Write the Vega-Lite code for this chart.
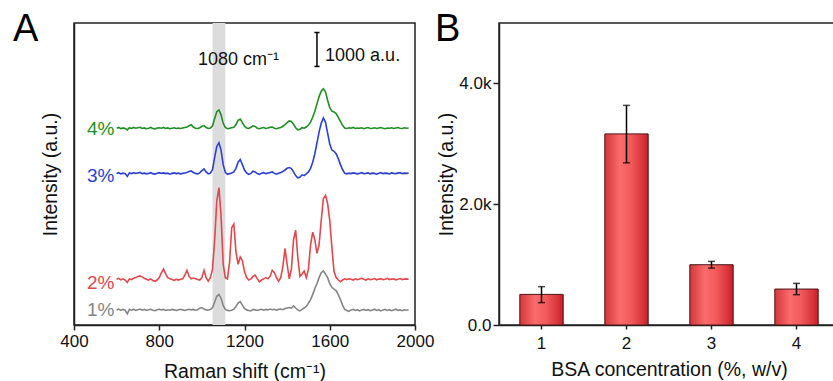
{
"$schema":"https://vega.github.io/schema/vega-lite/v6.json",
"background":"white",
"padding":{"left":12,"top":10,"right":0,"bottom":0},
"spacing":-1,
"config":{
 "font":"Liberation Sans",
 "view":{"stroke":"#222","strokeWidth":1.5},
 "axis":{"grid":false,"labelFlush":false,"labelFont":"Liberation Sans","titleFont":"Liberation Sans","labelFontSize":17,"titleFontSize":19.5,"titleFontWeight":"normal","labelColor":"#111","titleColor":"#111","domainColor":"#222","domainWidth":1.5,"tickColor":"#222","tickWidth":1.5},
 "title":{"font":"Liberation Sans","fontSize":38,"fontWeight":"normal","color":"#000"}
},
"hconcat":[
{
 "width":341,"height":302,
 "title":{"text":"A","anchor":"start","frame":"group","dx":-61,"offset":-26},
 "layer":[
  {"data":{"values":[{"x1":1050,"x2":1110}]},
   "mark":{"type":"rect","color":"#dcdcdc"},
   "encoding":{"x":{"field":"x1","type":"quantitative","title":"Raman shift (cm⁻¹)","scale":{"domain":[400,2000],"nice":false,"zero":false},"axis":{"values":[400,800,1200,1600,2000],"format":"d","labelFlush":false,"tickSize":5,"labelPadding":3,"titlePadding":13}},"x2":{"field":"x2"}}},
  {"data":{"values":[
{"x":600,"a":440,"b":1346,"c":4468,"d":5800},
{"x":610,"a":470,"b":1375,"c":4489,"d":5821},
{"x":620,"a":430,"b":1332,"c":4454,"d":5785},
{"x":630,"a":460,"b":1360,"c":4475,"d":5807},
{"x":640,"a":435,"b":1325,"c":4461,"d":5792},
{"x":650,"a":330,"b":1253,"c":4382,"d":5749},
{"x":660,"a":460,"b":1360,"c":4482,"d":5814},
{"x":670,"a":435,"b":1339,"c":4461,"d":5792},
{"x":680,"a":465,"b":1375,"c":4489,"d":5821},
{"x":690,"a":430,"b":1396,"c":4468,"d":5800},
{"x":700,"a":450,"b":1432,"c":4482,"d":5814},
{"x":710,"a":470,"b":1446,"c":4496,"d":5828},
{"x":720,"a":435,"b":1418,"c":4461,"d":5792},
{"x":730,"a":460,"b":1375,"c":4475,"d":5807},
{"x":740,"a":430,"b":1346,"c":4454,"d":5785},
{"x":750,"a":450,"b":1325,"c":4468,"d":5800},
{"x":760,"a":465,"b":1360,"c":4489,"d":5821},
{"x":770,"a":435,"b":1310,"c":4461,"d":5792},
{"x":780,"a":420,"b":1289,"c":4446,"d":5778},
{"x":790,"a":450,"b":1325,"c":4475,"d":5807},
{"x":800,"a":465,"b":1396,"c":4489,"d":5814},
{"x":810,"a":445,"b":1539,"c":4468,"d":5800},
{"x":820,"a":460,"b":1647,"c":4482,"d":5821},
{"x":830,"a":430,"b":1504,"c":4461,"d":5792},
{"x":840,"a":450,"b":1396,"c":4475,"d":5807},
{"x":850,"a":435,"b":1360,"c":4446,"d":5785},
{"x":860,"a":460,"b":1339,"c":4468,"d":5800},
{"x":870,"a":445,"b":1317,"c":4482,"d":5814},
{"x":880,"a":430,"b":1346,"c":4461,"d":5792},
{"x":890,"a":450,"b":1325,"c":4475,"d":5807},
{"x":900,"a":465,"b":1346,"c":4454,"d":5792},
{"x":910,"a":445,"b":1360,"c":4468,"d":5807},
{"x":920,"a":430,"b":1468,"c":4482,"d":5821},
{"x":930,"a":450,"b":1611,"c":4496,"d":5835},
{"x":940,"a":465,"b":1432,"c":4525,"d":5871},
{"x":950,"a":445,"b":1360,"c":4539,"d":5900},
{"x":960,"a":460,"b":1382,"c":4496,"d":5835},
{"x":970,"a":435,"b":1360,"c":4468,"d":5800},
{"x":980,"a":450,"b":1339,"c":4454,"d":5792},
{"x":990,"a":495,"b":1325,"c":4482,"d":5814},
{"x":1000,"a":515,"b":1396,"c":4547,"d":5857},
{"x":1010,"a":470,"b":1611,"c":4597,"d":5878},
{"x":1020,"a":445,"b":1396,"c":4511,"d":5821},
{"x":1030,"a":435,"b":1289,"c":4454,"d":5792},
{"x":1040,"a":460,"b":1396,"c":4475,"d":5807},
{"x":1050,"a":515,"b":1647,"c":4582,"d":5871},
{"x":1060,"a":680,"b":2506,"c":4940,"d":6086},
{"x":1070,"a":845,"b":3652,"c":5263,"d":6286},
{"x":1080,"a":900,"b":4045,"c":5370,"d":6337},
{"x":1090,"a":790,"b":3222,"c":5155,"d":6193},
{"x":1100,"a":575,"b":1790,"c":4726,"d":5943},
{"x":1110,"a":460,"b":1396,"c":4496,"d":5821},
{"x":1120,"a":430,"b":1360,"c":4439,"d":5785},
{"x":1130,"a":420,"b":1862,"c":4461,"d":5800},
{"x":1140,"a":435,"b":2864,"c":4482,"d":5814},
{"x":1150,"a":465,"b":2971,"c":4511,"d":5828},
{"x":1160,"a":545,"b":2148,"c":4618,"d":5907},
{"x":1170,"a":645,"b":1790,"c":4797,"d":6029},
{"x":1180,"a":690,"b":2005,"c":4876,"d":6065},
{"x":1190,"a":585,"b":1897,"c":4726,"d":5964},
{"x":1200,"a":485,"b":1575,"c":4568,"d":5857},
{"x":1210,"a":445,"b":1396,"c":4482,"d":5807},
{"x":1220,"a":430,"b":1325,"c":4439,"d":5792},
{"x":1230,"a":415,"b":1360,"c":4468,"d":5828},
{"x":1240,"a":460,"b":1432,"c":4532,"d":5871},
{"x":1250,"a":445,"b":1468,"c":4511,"d":5850},
{"x":1260,"a":430,"b":1360,"c":4461,"d":5800},
{"x":1270,"a":450,"b":1274,"c":4439,"d":5785},
{"x":1280,"a":465,"b":1325,"c":4475,"d":5807},
{"x":1290,"a":435,"b":1360,"c":4489,"d":5821},
{"x":1300,"a":460,"b":1396,"c":4461,"d":5792},
{"x":1310,"a":445,"b":1360,"c":4475,"d":5807},
{"x":1320,"a":470,"b":1432,"c":4496,"d":5828},
{"x":1330,"a":450,"b":1611,"c":4511,"d":5835},
{"x":1340,"a":465,"b":1539,"c":4468,"d":5800},
{"x":1350,"a":435,"b":1396,"c":4446,"d":5785},
{"x":1360,"a":460,"b":1289,"c":4475,"d":5807},
{"x":1370,"a":470,"b":1396,"c":4496,"d":5821},
{"x":1380,"a":450,"b":1718,"c":4525,"d":5857},
{"x":1390,"a":485,"b":2255,"c":4568,"d":5907},
{"x":1400,"a":500,"b":1790,"c":4618,"d":5964},
{"x":1410,"a":515,"b":1360,"c":4640,"d":6014},
{"x":1420,"a":495,"b":1647,"c":4611,"d":6000},
{"x":1430,"a":560,"b":2506,"c":4511,"d":5914},
{"x":1440,"a":500,"b":2792,"c":4403,"d":5814},
{"x":1450,"a":445,"b":2005,"c":4339,"d":5749},
{"x":1460,"a":415,"b":1432,"c":4353,"d":5771},
{"x":1470,"a":460,"b":1504,"c":4425,"d":5814},
{"x":1480,"a":500,"b":1590,"c":4403,"d":5800},
{"x":1490,"a":545,"b":1396,"c":4454,"d":5835},
{"x":1500,"a":645,"b":1647,"c":4511,"d":5893},
{"x":1510,"a":750,"b":2363,"c":4618,"d":5979},
{"x":1520,"a":895,"b":2735,"c":4797,"d":6122},
{"x":1530,"a":1075,"b":2506,"c":5048,"d":6301},
{"x":1540,"a":1215,"b":2112,"c":5370,"d":6516},
{"x":1550,"a":1395,"b":2363,"c":5692,"d":6730},
{"x":1560,"a":1540,"b":3079,"c":5943,"d":6888},
{"x":1570,"a":1595,"b":3723,"c":6100,"d":6960},
{"x":1580,"a":1505,"b":3816,"c":5979,"d":6874},
{"x":1590,"a":1395,"b":3580,"c":5656,"d":6623},
{"x":1600,"a":1215,"b":3079,"c":5334,"d":6408},
{"x":1610,"a":1110,"b":2291,"c":5155,"d":6301},
{"x":1620,"a":1060,"b":1575,"c":5119,"d":6279},
{"x":1630,"a":1015,"b":1396,"c":5048,"d":6229},
{"x":1640,"a":895,"b":1325,"c":4905,"d":6122},
{"x":1650,"a":750,"b":1274,"c":4726,"d":6000},
{"x":1660,"a":585,"b":1325,"c":4582,"d":5886},
{"x":1670,"a":460,"b":1360,"c":4475,"d":5807},
{"x":1680,"a":430,"b":1339,"c":4454,"d":5792},
{"x":1690,"a":400,"b":1360,"c":4475,"d":5814},
{"x":1700,"a":445,"b":1346,"c":4461,"d":5800},
{"x":1710,"a":460,"b":1325,"c":4482,"d":5821},
{"x":1720,"a":430,"b":1360,"c":4468,"d":5792},
{"x":1730,"a":450,"b":1339,"c":4454,"d":5807},
{"x":1740,"a":415,"b":1353,"c":4475,"d":5800},
{"x":1750,"a":445,"b":1375,"c":4489,"d":5814},
{"x":1760,"a":460,"b":1346,"c":4461,"d":5785},
{"x":1770,"a":430,"b":1325,"c":4468,"d":5807},
{"x":1780,"a":450,"b":1360,"c":4482,"d":5821},
{"x":1790,"a":420,"b":1339,"c":4454,"d":5792},
{"x":1800,"a":445,"b":1346,"c":4475,"d":5800},
{"x":1810,"a":465,"b":1368,"c":4468,"d":5814},
{"x":1820,"a":430,"b":1332,"c":4446,"d":5792},
{"x":1830,"a":450,"b":1353,"c":4475,"d":5807},
{"x":1840,"a":415,"b":1360,"c":4489,"d":5821},
{"x":1850,"a":445,"b":1339,"c":4461,"d":5800},
{"x":1860,"a":460,"b":1346,"c":4475,"d":5785},
{"x":1870,"a":430,"b":1375,"c":4468,"d":5807},
{"x":1880,"a":450,"b":1339,"c":4454,"d":5800},
{"x":1890,"a":420,"b":1353,"c":4482,"d":5814},
{"x":1900,"a":445,"b":1360,"c":4468,"d":5792},
{"x":1910,"a":465,"b":1332,"c":4461,"d":5807},
{"x":1920,"a":430,"b":1346,"c":4475,"d":5821},
{"x":1930,"a":445,"b":1368,"c":4489,"d":5800},
{"x":1940,"a":420,"b":1339,"c":4461,"d":5792},
{"x":1950,"a":450,"b":1353,"c":4475,"d":5814},
{"x":1960,"a":435,"b":1360,"c":4468,"d":5800},
{"x":1970,"a":450,"b":1346,"c":4475,"d":5807}
  ]},
   "transform":[{"fold":["a","b","c","d"],"as":["s","y"]}],
   "mark":{"type":"line","strokeWidth":1.6},
   "encoding":{
    "x":{"field":"x","type":"quantitative","title":"Raman shift (cm⁻¹)"},
    "y":{"field":"y","type":"quantitative","title":"Intensity (a.u.)","scale":{"domain":[0,8900],"nice":false},"axis":{"ticks":false,"labels":false,"titlePadding":14}},
    "color":{"field":"s","type":"nominal","scale":{"domain":["a","b","c","d"],"range":["#858585","#e2474b","#2b3fd6","#1f8f24"]},"legend":null}
   }},
  {"data":{"values":[{"s":"a","t":"1%","x":590,"y":450},{"s":"b","t":"2%","x":590,"y":1230},{"s":"c","t":"3%","x":590,"y":4400},{"s":"d","t":"4%","x":590,"y":5790}]},
   "mark":{"type":"text","align":"right","baseline":"middle","fontSize":19},
   "encoding":{"x":{"field":"x","type":"quantitative","title":"Raman shift (cm⁻¹)"},"y":{"field":"y","type":"quantitative","title":"Intensity (a.u.)"},"text":{"field":"t"},"color":{"field":"s","type":"nominal","legend":null}}},
  {"data":{"values":[{"x":1540,"y":7620,"y2":8620}]},
   "mark":{"type":"rule","color":"#000","strokeWidth":1.5},
   "encoding":{"x":{"field":"x","type":"quantitative","title":"Raman shift (cm⁻¹)"},"y":{"field":"y","type":"quantitative","title":"Intensity (a.u.)"},"y2":{"field":"y2"}}},
  {"data":{"values":[{"x":1528,"x2":1552,"y":7620},{"x":1528,"x2":1552,"y":8620}]},
   "mark":{"type":"rule","color":"#000","strokeWidth":1.5},
   "encoding":{"x":{"field":"x","type":"quantitative","title":"Raman shift (cm⁻¹)"},"x2":{"field":"x2"},"y":{"field":"y","type":"quantitative","title":"Intensity (a.u.)"}}},
  {"data":{"values":[{"x":982,"y":7670,"t":"1080 cm⁻¹"},{"x":1578,"y":7780,"t":"1000 a.u."}]},
   "mark":{"type":"text","align":"left","baseline":"alphabetic","fontSize":18,"color":"#111"},
   "encoding":{"x":{"field":"x","type":"quantitative","title":"Raman shift (cm⁻¹)"},"y":{"field":"y","type":"quantitative","title":"Intensity (a.u.)"},"text":{"field":"t"}}}
 ]
},
{
 "width":340,"height":302,
 "title":{"text":"B","anchor":"start","frame":"group","dx":-64,"offset":-26},
 "data":{"values":[
  {"c":"1","v":507,"lo":370,"hi":635},
  {"c":"2","v":3164,"lo":2684,"hi":3636},
  {"c":"3","v":998,"lo":942,"hi":1053},
  {"c":"4","v":595,"lo":502,"hi":689}
 ]},
 "layer":[
  {"mark":{"type":"bar","fill":{"gradient":"linear","x1":0,"y1":0,"x2":1,"y2":0,"stops":[{"offset":0,"color":"#d3373c"},{"offset":0.35,"color":"#fb6c6c"},{"offset":0.6,"color":"#f25a5c"},{"offset":0.88,"color":"#d8343a"},{"offset":1,"color":"#c21f27"}]},"stroke":"#4a1414","strokeWidth":1},
   "encoding":{
    "x":{"field":"c","type":"ordinal","title":"BSA concentration (%, w/v)","scale":{"paddingInner":0.49,"paddingOuter":0.245},"axis":{"labelAngle":0,"tickSize":4,"labelPadding":6,"titlePadding":9}},
    "y":{"field":"v","type":"quantitative","title":"Intensity (a.u.)","scale":{"domain":[0,5000],"nice":false},"axis":{"values":[0,2000,4000],"format":".2s","labelFlush":false,"tickSize":6,"labelPadding":2,"titlePadding":2}}
   }},
  {"mark":{"type":"errorbar","ticks":{"size":7},"thickness":1.5,"color":"#000"},
   "encoding":{"x":{"field":"c","type":"ordinal","title":"BSA concentration (%, w/v)"},"y":{"field":"lo","type":"quantitative","title":"Intensity (a.u.)"},"y2":{"field":"hi"}}}
 ]
}
]
}
